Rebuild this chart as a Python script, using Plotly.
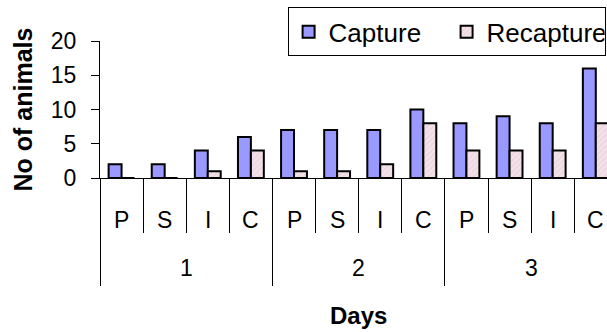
import plotly.graph_objects as go

# Sampling days and the four phases recorded on each day
days = ["1", "2", "3"]
phases = ["P", "S", "I", "C"]

# Animals caught per day/phase
capture = [2, 2, 4, 6, 7, 7, 7, 10, 8, 9, 8, 16]
recapture = [0, 0, 1, 4, 1, 1, 2, 8, 4, 4, 4, 8]

keys = [f"{d}-{p}" for d in days for p in phases]
phase_labels = [p for d in days for p in phases]

FONT = "Liberation Sans, Arial, sans-serif"
n = len(keys)
span = len(phases)
x_range = [-0.5, n - 0.74]

fig = go.Figure()
fig.add_trace(go.Bar(
    name="Capture", x=keys, y=capture,
    marker=dict(color="#9999FF", line=dict(color="black", width=2)),
))
fig.add_trace(go.Bar(
    name="Recapture", x=keys, y=recapture,
    marker=dict(
        color="#F2DCE6",
        line=dict(color="black", width=2),
        pattern=dict(shape="/", fgcolor="#DDBFCD", bgcolor="#F4E2EA",
                     size=4, solidity=0.3),
    ),
))

annotations = []
# phase letters under each category
for k, lab in zip(keys, phase_labels):
    annotations.append(dict(
        x=k, y=0, xref="x", yref="y", yshift=-42, text=lab,
        showarrow=False, yanchor="middle",
        font=dict(family=FONT, size=23, color="black"),
    ))
# day labels centred under each group
for g, d in enumerate(days):
    centre = g * span + (span - 1) / 2
    annotations.append(dict(
        x=centre, y=0, xref="x2", yref="y", yshift=-90, text=d,
        showarrow=False, yanchor="middle",
        font=dict(family=FONT, size=23, color="black"),
    ))
annotations.append(dict(
    x=(n - 1) / 2, y=0, xref="x2", yref="y", yshift=-137, text="<b>Days</b>",
    showarrow=False, yanchor="middle",
    font=dict(family=FONT, size=24, color="black"),
))

group_bounds = [g * span - 0.5 for g in range(len(days) + 1)]

fig.update_layout(
    width=607, height=332,
    margin=dict(l=100, r=0, t=41, b=154, pad=0, autoexpand=False),
    paper_bgcolor="white", plot_bgcolor="white",
    barmode="group", bargap=0.4, bargroupgap=0,
    font=dict(family=FONT, size=22, color="black"),
    showlegend=True,
    legend=dict(
        orientation="h", x=0.37, xanchor="left", y=1.245, yanchor="top",
        bgcolor="white", bordercolor="black", borderwidth=1,
        font=dict(family=FONT, size=26, color="black"),
        entrywidth=113, entrywidthmode="pixels",
    ),
    xaxis=dict(
        type="category", range=x_range,
        showline=True, linecolor="black", linewidth=1,
        ticks="outside", tickson="boundaries", ticklen=54,
        tickcolor="black", tickwidth=1,
        showticklabels=False, showgrid=False, zeroline=False,
    ),
    xaxis2=dict(
        type="linear", overlaying="x", anchor="y", side="bottom",
        range=x_range, tickmode="array", tickvals=group_bounds,
        ticks="outside", ticklen=107, tickcolor="black", tickwidth=1,
        showticklabels=False, showgrid=False, zeroline=False, showline=False,
    ),
    yaxis=dict(
        range=[0, 20], tickmode="array", tickvals=[0, 5, 10, 15, 20],
        showline=True, linecolor="black", linewidth=1,
        ticks="outside", ticklen=8, tickcolor="black", tickwidth=1,
        ticklabelstandoff=10,
        showgrid=False, zeroline=False,
        tickfont=dict(family=FONT, size=23, color="black"),
        title=dict(text="<b>No of animals</b>", standoff=11,
                   font=dict(family=FONT, size=25, color="black")),
    ),
    annotations=annotations,
)

fig.write_html("out.html")
